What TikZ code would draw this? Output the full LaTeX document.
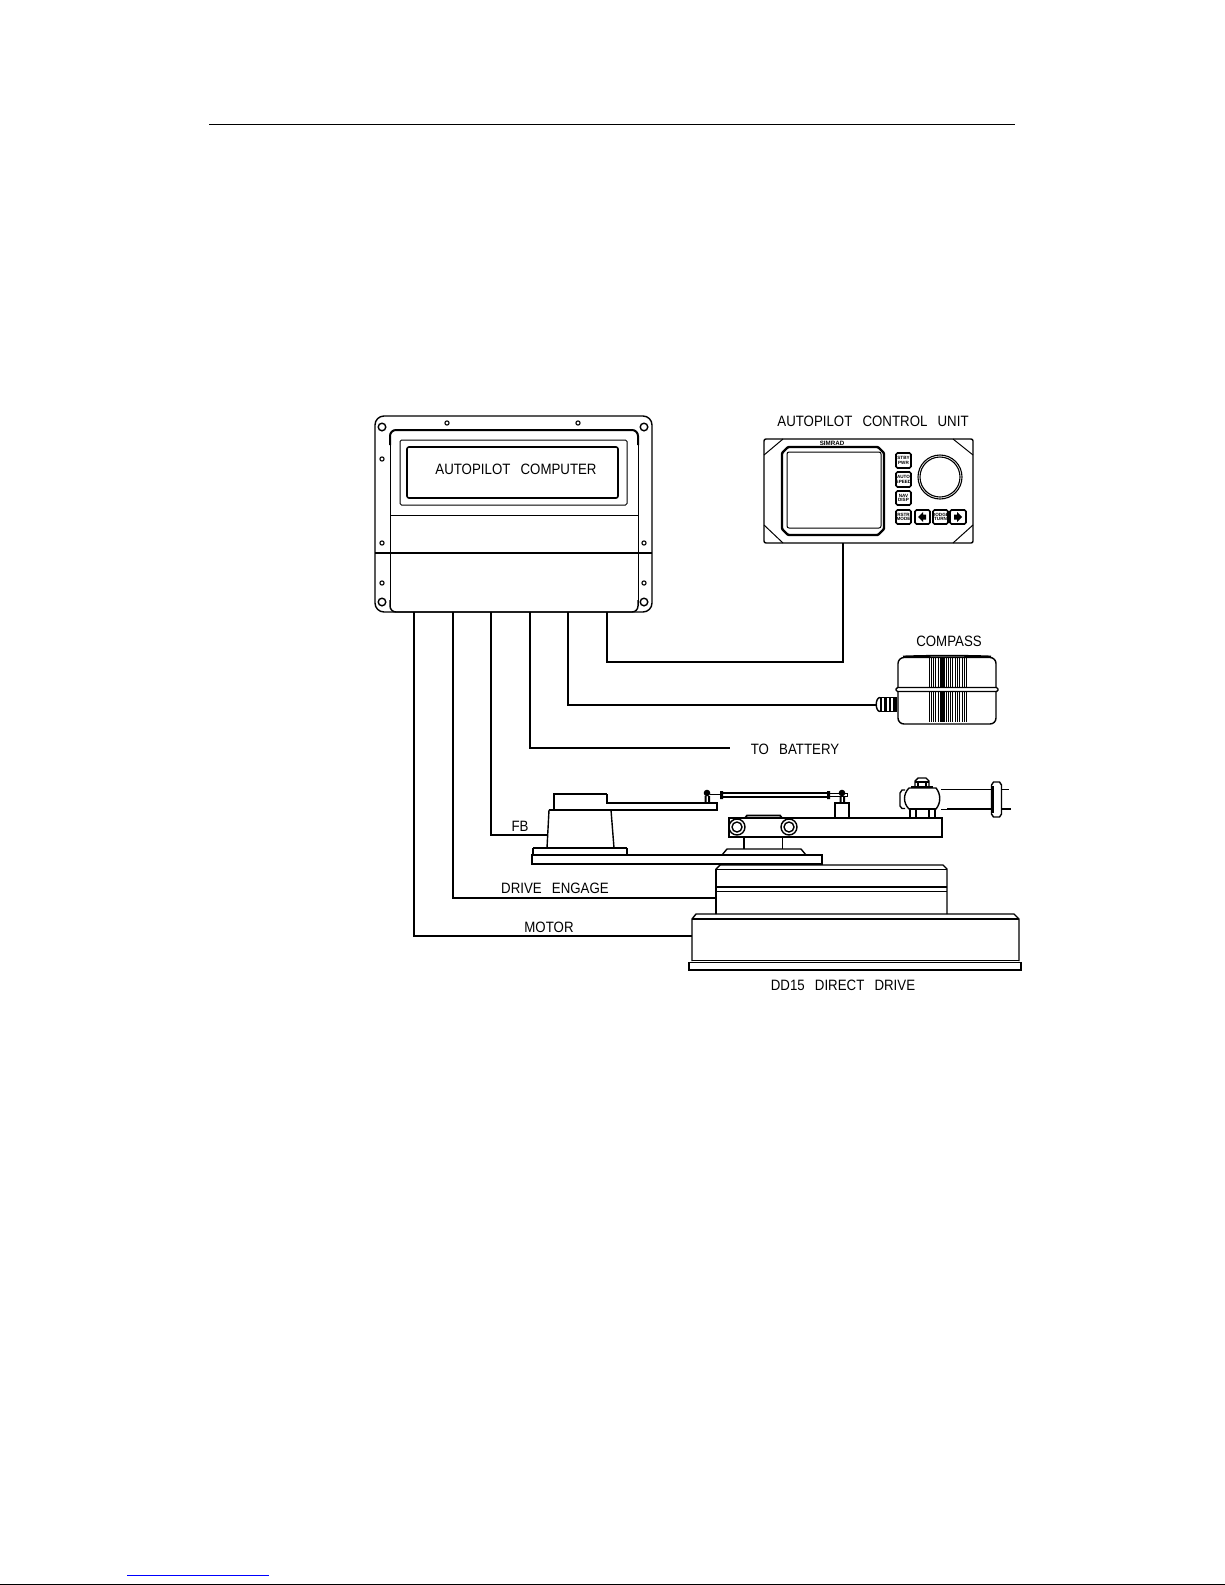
\documentclass[tikz,border=0pt]{standalone}
\usepackage{graphicx}
\usepackage{fontspec}
\setmainfont{Liberation Sans}
\newcommand{\gp}{\hspace{11.5pt}}
\newcommand{\lt}[1]{\scalebox{0.885}[1]{#1}}
\tikzset{
  thin line/.style={line width=1pt,black},
  mid line/.style={line width=1.4pt,black},
  thick line/.style={line width=2.4pt,black},
  wire/.style={line width=1.2pt,black},
  lbl/.style={inner sep=0pt,font=\fontsize{15}{16}\selectfont,text=black},
  btn/.style={line width=1.6pt,rounded corners=1.5pt,black},
  btxt/.style={inner sep=0pt,align=center,font=\fontsize{4.6}{4.8}\selectfont\bfseries}
}
\begin{document}
\begin{tikzpicture}[x=1pt,y=-1pt]
\useasboundingbox (0,0) rectangle (1225,1585);
\fill[white] (0,0) rectangle (1225,1585);
% page furniture
\coordinate (ruleL) at (209,124.5);
\coordinate (ruleR) at (1015,124.5);
\draw[line width=1pt] (ruleL) -- (ruleR);
\coordinate (linkL) at (127,1575.5);
\coordinate (linkR) at (269,1575.5);
\draw[line width=1pt,blue] (linkL) -- (linkR);
\coordinate (edgeL) at (0,1584.5);
\coordinate (edgeR) at (1225,1584.5);
\draw[line width=1pt] (edgeL) -- (edgeR);

% ---------- computer
\draw[mid line,rounded corners=9pt] (375,416) rectangle (652,612);
\draw[line width=2pt,rounded corners=6pt] (390,445) -- (390,430) -- (638,430) -- (638,445);
\draw[thin line,fill=white] (390,440) -- (390,606) (638,440) -- (638,606);
\draw[mid line,rounded corners=6pt] (390,600) -- (390,612) -- (638,612) -- (638,600);
\draw[thin line,rounded corners=1.5pt] (400,440) rectangle (627,505);
\draw[line width=1.6pt,rounded corners=2pt] (407,447) rectangle (618,498);
\draw[thin line] (390,515) -- (638,515);
\draw[line width=1.8pt] (375,553) -- (652,553);
\foreach \p in {(382,427),(644,427),(382,602),(644,602)} \draw[mid line] \p circle (3.8);
\foreach \p in {(447,423),(578,423),(382,459),(382,543),(644,543),(382,583),(644,583)} \draw[line width=1.1pt] \p circle (2.1);
\node[lbl] (computerlabel) at (516,469) {\lt{AUTOPILOT\gp COMPUTER}};

% ---------- control unit
\node[lbl] (unitlabel) at (873,421) {\lt{AUTOPILOT\gp CONTROL\gp UNIT}};
\draw[mid line,rounded corners=2pt] (764,439) rectangle (973,543);
\draw[thin line] (764,455) -- (783,439) (953,439) -- (973,455) (764,525) -- (783,543) (953,543) -- (973,525);
\draw[line width=2.4pt,rounded corners=1pt] (788,447) -- (878,447) -- (884,453) -- (884,529) -- (878,535) -- (788,535) -- (782,529) -- (782,453) -- cycle;
\draw[thin line,rounded corners=2pt] (787,452) rectangle (881,528);
\node[inner sep=0pt,font=\fontsize{6.2}{6}\selectfont\bfseries] (brand) at (832,443.5) {SIMRAD};
\draw[btn] (896,453) rectangle (911,468);
\draw[btn] (896,472) rectangle (911,487);
\draw[btn] (896,491) rectangle (911,505);
\draw[btn] (896,510) rectangle (911,524);
\draw[btn] (915,510) rectangle (930,524);
\draw[btn] (933,510) rectangle (948,524);
\draw[btn] (950,510) rectangle (966,524);
\node[btxt] (bstby) at (903.5,460.5) {STBY\\PWR};
\node[btxt] (bauto) at (903.5,479.5) {AUTO\\SPEED};
\node[btxt] (bnav) at (903.5,498) {NAV\\DISP};
\node[btxt] (brstr) at (903.5,517) {RSTR\\MODE};
\node[btxt] (bdodge) at (940.5,517) {DODGE\\TURN};
\fill (926,514.5) -- (926,519.5) -- (923,519.5) -- (923,522) -- (918,517) -- (923,512) -- (923,514.5) -- cycle;
\fill (954,514.5) -- (954,519.5) -- (957,519.5) -- (957,522) -- (962,517) -- (957,512) -- (957,514.5) -- cycle;
\draw[line width=1.1pt] (940,477) circle (22);
\draw[line width=1.1pt] (940,477) circle (20);

% ---------- compass
\node[lbl] (compasslabel) at (949,641) {\lt{COMPASS}};
\draw[mid line,rounded corners=6pt] (898,689) -- (898,657.5) -- (996,657.5) -- (996,689);
\draw[line width=1.8pt] (903,656.5) .. controls (925,655.5) and (970,655.5) .. (991,656.5);
\draw[mid line,rounded corners=6pt] (898,690) -- (898,724) -- (996,724) -- (996,690);
\draw[mid line,rounded corners=1.5pt,fill=white] (896,687.5) rectangle (998,691.5);
\foreach \x in {929,931.3,933.6,935.9,938.2,946,948.3,950.6,952.9,955.2,957.5,959.8,962.1,964.4,966} {
  \draw[line width=1pt] (\x,656.5) -- (\x,687);
  \draw[line width=1pt] (\x,692) -- (\x,722);
}
\fill (940,656.5) rectangle (944.5,687);
\fill (940,692) rectangle (944.5,722);
\draw[mid line] (880,697.5) .. controls (875,697.5) and (875,711.5) .. (880,711.5);
\draw[thin line] (880,697.5) -- (897,697.5) (880,711.5) -- (897,711.5);
\fill (880,697.5) rectangle (882,711.5);
\fill (884,698) rectangle (886.5,711);
\fill (888.5,698) rectangle (890.5,711);
\fill (893,698) rectangle (897,711);
\coordinate (compassport) at (876,705);

% ---------- linkage
\node[lbl] (battlabel) at (795,749) {\lt{TO\gp BATTERY}};
\draw[line width=1.8pt] (554,810) -- (554,794) -- (607,794);
\draw[mid line] (607,794) -- (607,803) -- (717,803) -- (717,810) -- (549,810);
\draw[mid line] (549,810) -- (547,848) (611,810) -- (614,848);
\draw[line width=1.8pt] (533,848) -- (627,848);
\draw[mid line] (533,848) -- (533,855) (627,848) -- (627,855);
\draw[mid line] (532,855) rectangle (822,864);
\draw[mid line] (722,855) -- (727,849) -- (801,849) -- (806,855);
\draw[mid line,fill=white] (729,818) rectangle (942,837);
\draw[line width=1.8pt] (745,818) -- (747,815.5) -- (780,815.5) -- (782,818);
\draw[line width=2pt] (744,837) -- (744,849);
\draw[thin line] (782,837) -- (782,849);
\foreach \p in {(737,827),(789,827)} {
  \draw[mid line,fill=white] \p circle (8);
  \draw[mid line] \p circle (5);
}
% link rod
\draw[line width=1.2pt] (722,793) -- (828,793) (722,797) -- (828,797);
\fill (720,791) rectangle (723,799) (827,791) rectangle (830,799);
\fill (707,793) circle (3.3);
\fill (704.5,796) rectangle (706.5,803) (708,796) rectangle (710,803);
\draw[thin line] (710,794) -- (720,794);
\fill (842,793) circle (3.3);
\fill (839.5,796) rectangle (841.5,803) (843,796) rectangle (845,803);
\draw[thin line] (829,793) -- (847,793) -- (847,796.5) -- (829,796.5);
\draw[mid line] (835,803) rectangle (849,818);
% rudder end
\draw[mid line] (905,790) -- (902,790) -- (900,793) -- (900,806) -- (902,808.5) -- (905,808.5);
\draw[mid line,fill=white] (909,788) .. controls (903,794) and (903,803) .. (909,809) -- (936,809) .. controls (941,803) and (941,794) .. (936,788) -- cycle;
\draw[mid line] (915,787) -- (915,781) -- (918,778) -- (926,778) -- (929,781) -- (929,787);
\draw[line width=1.8pt] (915,782) -- (929,782);
\draw[line width=1.2pt] (918,782) -- (918,787) (926,782) -- (926,787);
\draw[line width=2pt] (911,787) -- (933,787);
\draw[mid line] (910,809) rectangle (935,818);
\draw[mid line] (916,809) -- (916,818) (929,809) -- (929,818);
\draw[thin line] (941,789) -- (947,789) (941,809) -- (947,809);
\draw[line width=1.6pt] (947,789.5) -- (992,789.5);
\draw[line width=2pt] (947,809) -- (1011,809);
\draw[thin line] (1001,789.5) -- (1009,789.5);
\draw[mid line,fill=white] (993.5,782) -- (999.5,782) -- (1001.5,785) -- (1001.5,814) -- (999.5,817) -- (993.5,817) -- (991.5,814) -- (991.5,785) -- cycle;
\draw[line width=1.5pt] (993,786) -- (993,813);

% ---------- direct drive
\draw[mid line] (716,914) -- (716,869) -- (720,865) -- (943,865) -- (947,869) -- (947,914);
\draw[line width=2pt] (716,869) -- (716,914);
\draw[line width=1.2pt] (716,869.5) -- (947,869.5);
\draw[line width=2pt] (716,887) -- (947,887);
\draw[thin line] (716,891) -- (947,891);
\draw[mid line] (692,961) -- (692,919) -- (696,914) -- (1014,914) -- (1019,919) -- (1019,961);
\draw[line width=1.2pt] (692,919) -- (1019,919);
\draw[thin line] (692,960.5) -- (1019,960.5);
\draw[line width=1.8pt] (689,970) -- (689,962.5) -- (1021,962.5) -- (1021,970) -- cycle;
\node[lbl] (ddlabel) at (843,985) {\lt{DD15\gp DIRECT\gp DRIVE}};

% ---------- wire labels
\node[lbl] (fblabel) at (520,826) {\lt{FB}};
\node[lbl] (engagelabel) at (555,888.5) {\lt{DRIVE\gp ENGAGE}};
\node[lbl] (motorlabel) at (549,927.5) {\lt{MOTOR}};

% ---------- wires
\coordinate (p1) at (414,612);
\coordinate (p2) at (453,612);
\coordinate (p3) at (491,612);
\coordinate (p4) at (530,612);
\coordinate (p5) at (568,612);
\coordinate (p6) at (607,612);
\coordinate (unitport) at (843,543);
\coordinate (battend) at (730,748);
\coordinate (fbport) at (547,835);
\coordinate (engageport) at (716,898);
\coordinate (motorport) at (692,936);
\draw[wire] (p6) |- (843,662) -- (unitport);
\draw[wire] (p5) |- (compassport);
\draw[wire] (p4) |- (battend);
\draw[wire] (p3) |- (fbport);
\draw[wire] (p2) |- (engageport);
\draw[wire] (p1) |- (motorport);
\end{tikzpicture}
\end{document}
